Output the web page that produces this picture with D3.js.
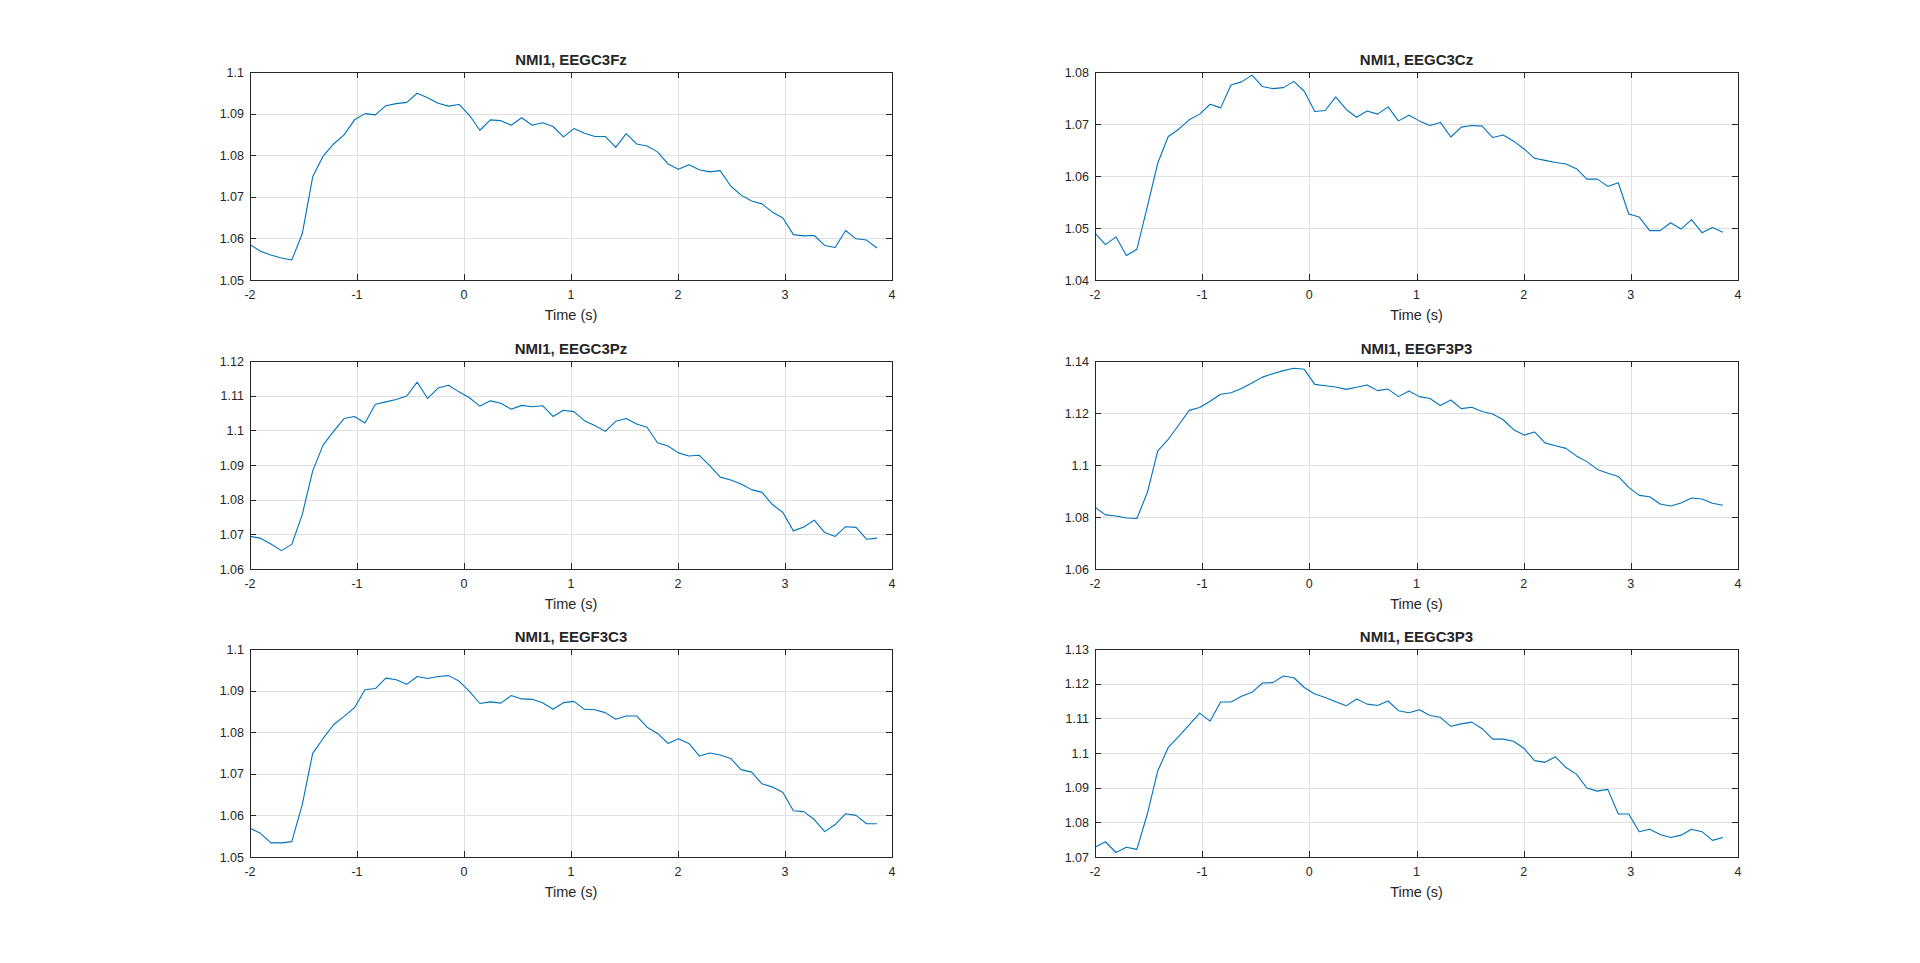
<!DOCTYPE html>
<html><head><meta charset="utf-8">
<script src="https://cdn.jsdelivr.net/npm/d3@7"></script>
<style>
body{margin:0;background:#fff}
svg{display:block}
text{font-family:"Liberation Sans",Arial,Helvetica,sans-serif;fill:#262626}
</style>
</head><body>
<svg id="chart" width="1920" height="963"></svg>
<script>
// ---- data ----
const time = [-2.0000,-1.9023,-1.8047,-1.7070,-1.6094,-1.5117,-1.4141,-1.3164,-1.2188,-1.1211,
  -1.0234,-0.9258,-0.8281,-0.7305,-0.6328,-0.5352,-0.4375,-0.3398,-0.2422,-0.1445,
  -0.0469,0.0508,0.1484,0.2461,0.3438,0.4414,0.5391,0.6367,0.7344,0.8320,
  0.9297,1.0273,1.1250,1.2227,1.3203,1.4180,1.5156,1.6133,1.7109,1.8086,
  1.9063,2.0039,2.1016,2.1992,2.2969,2.3945,2.4922,2.5898,2.6875,2.7852,
  2.8828,2.9805,3.0781,3.1758,3.2734,3.3711,3.4688,3.5664,3.6641,3.7617,3.8594];

const titles = ["NMI1, EEGC3Fz","NMI1, EEGC3Cz","NMI1, EEGC3Pz","NMI1, EEGF3P3","NMI1, EEGF3C3","NMI1, EEGC3P3"];
const xLabel = "Time (s)";
const xTicks = [-2,-1,0,1,2,3,4];
const xTickLabels = ["-2","-1","0","1","2","3","4"];

const nmiC3Fz = [1.0585,1.0569,1.0560,1.0553,1.0548,1.0611,1.0748,1.0798,1.0827,1.0849,
  1.0885,1.0900,1.0897,1.0919,1.0924,1.0927,1.0949,1.0938,1.0925,1.0918,
  1.0922,1.0896,1.0860,1.0885,1.0883,1.0872,1.0890,1.0872,1.0878,1.0869,
  1.0844,1.0864,1.0853,1.0845,1.0845,1.0819,1.0852,1.0827,1.0822,1.0808,
  1.0779,1.0766,1.0777,1.0765,1.0760,1.0763,1.0726,1.0704,1.0690,1.0683,
  1.0663,1.0649,1.0609,1.0606,1.0607,1.0583,1.0578,1.0619,1.0599,1.0596,1.0577];
const nmiC3Cz = [1.0490,1.0468,1.0483,1.0447,1.0459,1.0541,1.0625,1.0676,1.0690,1.0708,
  1.0719,1.0738,1.0731,1.0775,1.0781,1.0794,1.0772,1.0768,1.0770,1.0782,
  1.0763,1.0724,1.0726,1.0752,1.0728,1.0713,1.0725,1.0719,1.0733,1.0706,
  1.0717,1.0706,1.0697,1.0703,1.0675,1.0694,1.0697,1.0696,1.0674,1.0679,
  1.0667,1.0652,1.0634,1.0630,1.0626,1.0623,1.0614,1.0594,1.0594,1.0580,
  1.0587,1.0527,1.0521,1.0495,1.0495,1.0510,1.0498,1.0516,1.0491,1.0501,1.0492];
const nmiC3Pz = [1.0694,1.0689,1.0672,1.0653,1.0671,1.0757,1.0883,1.0958,1.0997,1.1034,
  1.1040,1.1021,1.1075,1.1082,1.1089,1.1099,1.1139,1.1092,1.1122,1.1130,
  1.1111,1.1094,1.1070,1.1085,1.1078,1.1061,1.1072,1.1068,1.1071,1.1040,
  1.1058,1.1054,1.1028,1.1014,1.0997,1.1026,1.1034,1.1018,1.1009,1.0964,
  1.0955,1.0935,1.0926,1.0928,1.0898,1.0865,1.0857,1.0845,1.0829,1.0821,
  1.0786,1.0763,1.0710,1.0721,1.0741,1.0705,1.0694,1.0722,1.0720,1.0686,1.0689];
const nmiF3P3 = [1.0838,1.0808,1.0804,1.0796,1.0794,1.0894,1.1054,1.1099,1.1154,1.1210,
  1.1221,1.1245,1.1272,1.1278,1.1294,1.1315,1.1338,1.1351,1.1363,1.1372,
  1.1368,1.1310,1.1305,1.1300,1.1291,1.1299,1.1308,1.1286,1.1292,1.1263,
  1.1285,1.1263,1.1256,1.1229,1.1250,1.1217,1.1222,1.1206,1.1196,1.1174,
  1.1136,1.1115,1.1127,1.1085,1.1074,1.1064,1.1035,1.1013,1.0983,1.0968,
  1.0956,1.0914,1.0883,1.0878,1.0850,1.0842,1.0854,1.0873,1.0869,1.0853,1.0845];
const nmiF3C3 = [1.0569,1.0557,1.0534,1.0534,1.0537,1.0626,1.0749,1.0785,1.0818,1.0838,
  1.0859,1.0902,1.0905,1.0930,1.0926,1.0915,1.0934,1.0929,1.0934,1.0936,
  1.0923,1.0898,1.0869,1.0873,1.0870,1.0888,1.0880,1.0879,1.0871,1.0855,
  1.0871,1.0874,1.0855,1.0854,1.0847,1.0831,1.0839,1.0839,1.0812,1.0797,
  1.0773,1.0784,1.0773,1.0743,1.0750,1.0745,1.0737,1.0710,1.0704,1.0676,
  1.0668,1.0655,1.0611,1.0609,1.0590,1.0561,1.0578,1.0604,1.0600,1.0580,1.0580];
const nmiC3P3 = [1.0728,1.0744,1.0713,1.0728,1.0722,1.0824,1.0949,1.1016,1.1048,1.1081,
  1.1115,1.1092,1.1147,1.1147,1.1164,1.1175,1.1202,1.1203,1.1222,1.1217,
  1.1189,1.1170,1.1160,1.1148,1.1136,1.1156,1.1141,1.1137,1.1150,1.1122,
  1.1116,1.1125,1.1108,1.1103,1.1077,1.1084,1.1089,1.1070,1.1040,1.1040,
  1.1034,1.1013,1.0978,1.0973,1.0989,1.0958,1.0939,1.0899,1.0890,1.0895,
  1.0824,1.0824,1.0773,1.0780,1.0765,1.0756,1.0763,1.0780,1.0773,1.0748,1.0756];

const yTicksC3Fz = [1.05,1.06,1.07,1.08,1.09,1.1];
const yTicksC3Cz = [1.04,1.05,1.06,1.07,1.08];
const yTicksC3Pz = [1.06,1.07,1.08,1.09,1.1,1.11,1.12];
const yTicksF3P3 = [1.06,1.08,1.1,1.12,1.14];
const yTicksF3C3 = [1.05,1.06,1.07,1.08,1.09,1.1];
const yTicksC3P3 = [1.07,1.08,1.09,1.1,1.11,1.12,1.13];

const seriesList = [nmiC3Fz,nmiC3Cz,nmiC3Pz,nmiF3P3,nmiF3C3,nmiC3P3];
const yTicksList = [yTicksC3Fz,yTicksC3Cz,yTicksC3Pz,yTicksF3P3,yTicksF3C3,yTicksC3P3];

// ---- layout (MATLAB default subplot 3x2) ----
const W = 1920, H = 963;
const colLeft = [0.13, 0.5703], rowBottom = [0.7093, 0.4096, 0.11];
const pw = 0.3347, ph = 0.2157;
const axisColor = "#262626", gridColor = "#dfdfdf", lineColor = "#0072bd";
const fmt = d3.format("~g");

const svg = d3.select("#chart");
svg.append("rect").attr("width", W).attr("height", H).attr("fill", "#fff");

seriesList.forEach((vals, i) => {
  const col = i % 2, row = Math.floor(i / 2);
  const x0 = Math.round(colLeft[col] * W), x1 = Math.round((colLeft[col] + pw) * W);
  const y1 = Math.round((1 - rowBottom[row]) * H), y0 = Math.round((1 - rowBottom[row] - ph) * H);
  const yt = yTicksList[i];
  const x = d3.scaleLinear().domain([xTicks[0], xTicks[xTicks.length - 1]]).range([x0, x1]);
  const y = d3.scaleLinear().domain([yt[0], yt[yt.length - 1]]).range([y1, y0]);
  const g = svg.append("g");

  // grid
  g.append("g").selectAll("line").data(xTicks.slice(1, -1)).join("line")
    .attr("x1", d => Math.round(x(d)) + 0.5).attr("x2", d => Math.round(x(d)) + 0.5)
    .attr("y1", y0).attr("y2", y1).attr("stroke", gridColor).attr("stroke-width", 1);
  g.append("g").selectAll("line").data(yt.slice(1, -1)).join("line")
    .attr("y1", d => Math.round(y(d)) + 0.5).attr("y2", d => Math.round(y(d)) + 0.5)
    .attr("x1", x0).attr("x2", x1).attr("stroke", gridColor).attr("stroke-width", 1);

  // data line
  const line = d3.line().x((d, k) => x(time[k])).y(d => y(d));
  g.append("path").datum(vals).attr("d", line).attr("fill", "none")
    .attr("stroke", lineColor).attr("stroke-width", 1.1).attr("stroke-linejoin", "round");

  // box
  g.append("rect").attr("x", x0 + 0.5).attr("y", y0 + 0.5)
    .attr("width", x1 - x0).attr("height", y1 - y0)
    .attr("fill", "none").attr("stroke", axisColor).attr("stroke-width", 1);

  const tl = 6;
  // x ticks (bottom & top, inward)
  const xt = g.append("g");
  xTicks.forEach((d, k) => {
    const px = Math.round(x(d)) + 0.5;
    xt.append("line").attr("x1", px).attr("x2", px).attr("y1", y1).attr("y2", y1 - tl).attr("stroke", axisColor);
    xt.append("line").attr("x1", px).attr("x2", px).attr("y1", y0).attr("y2", y0 + tl).attr("stroke", axisColor);
    xt.append("text").attr("x", x(d)).attr("y", y1 + 19).attr("text-anchor", "middle")
      .attr("font-size", 12.5).text(xTickLabels[k]);
  });
  // y ticks (left & right, inward)
  const ytg = g.append("g");
  yt.forEach(d => {
    const py = Math.round(y(d)) + 0.5;
    ytg.append("line").attr("x1", x0).attr("x2", x0 + tl).attr("y1", py).attr("y2", py).attr("stroke", axisColor);
    ytg.append("line").attr("x1", x1).attr("x2", x1 - tl).attr("y1", py).attr("y2", py).attr("stroke", axisColor);
    ytg.append("text").attr("x", x0 - 6).attr("y", y(d) + 4.5).attr("text-anchor", "end")
      .attr("font-size", 12.5).text(fmt(d));
  });

  // labels
  g.append("text").attr("x", (x0 + x1) / 2).attr("y", y1 + 40).attr("text-anchor", "middle")
    .attr("font-size", 14.5).text(xLabel);
  g.append("text").attr("x", (x0 + x1) / 2).attr("y", y0 - 7).attr("text-anchor", "middle")
    .attr("font-size", 15).attr("font-weight", "bold").text(titles[i]);
});
</script>
</body></html>
